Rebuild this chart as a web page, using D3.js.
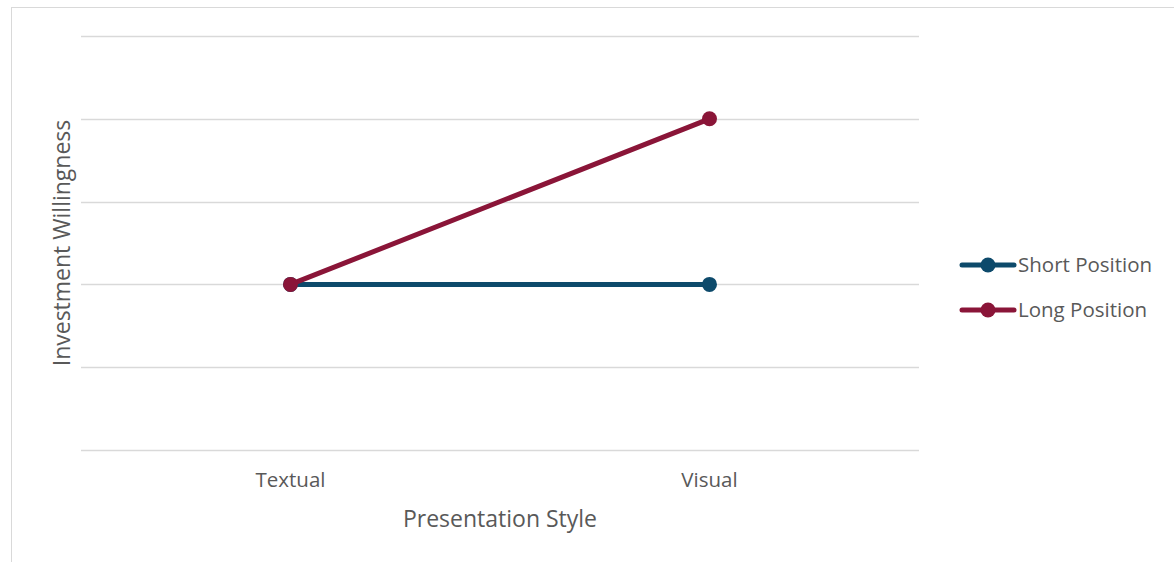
<!DOCTYPE html>
<html>
<head>
<meta charset="utf-8">
<script src="https://cdn.jsdelivr.net/npm/d3@7"></script>
<style>
  html, body { margin: 0; padding: 0; background: #fff; }
  svg { display: block; font-family: "Open Sans", "Noto Sans", sans-serif; }
</style>
</head>
<body>
<svg id="chart" width="1174" height="562"></svg>
<script>
// Categories and series values
const categories = ["Textual", "Visual"];
const seriesNames = ["Short Position", "Long Position"];
const shortValues = [2, 2];
const longValues = [2, 4];
const gridValues = [0, 1, 2, 3, 4, 5];
const seriesColors = ["#0d4a6b", "#8a1538"];

const series = [
  { name: seriesNames[0], values: shortValues, color: seriesColors[0] },
  { name: seriesNames[1], values: longValues, color: seriesColors[1] }
];

const svg = d3.select("#chart");

// Chart frame
svg.append("rect")
  .attr("x", 11.5).attr("y", 7.5)
  .attr("width", 1180).attr("height", 560)
  .attr("fill", "#fff")
  .attr("stroke", "#d9d9d9")
  .attr("stroke-width", 1);

const plot = { left: 81, right: 919, top: 36, bottom: 450 };

const x = d3.scaleBand()
  .domain(categories)
  .range([plot.left, plot.right]);

const y = d3.scaleLinear()
  .domain([0, 5])
  .range([plot.bottom, plot.top]);

// Horizontal gridlines
svg.append("g")
  .selectAll("line")
  .data(gridValues)
  .join("line")
  .attr("x1", plot.left).attr("x2", plot.right)
  .attr("y1", d => Math.round(y(d)) + 0.5)
  .attr("y2", d => Math.round(y(d)) + 0.5)
  .attr("stroke", "#d9d9d9")
  .attr("stroke-width", 1.5);

// Category labels
const xAxis = d3.axisBottom(x).tickSize(0).tickPadding(0);
const xg = svg.append("g")
  .attr("transform", `translate(0,${plot.bottom})`)
  .call(xAxis);
xg.select(".domain").remove();
xg.selectAll("text")
  .attr("dy", 0)
  .attr("y", 37)
  .attr("fill", "#595959")
  .style("font-family", "'Open Sans', sans-serif")
  .style("font-size", "20.5px");

// Axis titles
svg.append("text")
  .attr("x", (plot.left + plot.right) / 2)
  .attr("y", 527)
  .attr("text-anchor", "middle")
  .attr("fill", "#595959")
  .style("font-size", "23px")
  .text("Presentation Style");

svg.append("text")
  .attr("transform", `translate(70,${(plot.top + plot.bottom) / 2}) rotate(-90)`)
  .attr("text-anchor", "middle")
  .attr("fill", "#595959")
  .style("font-size", "23px")
  .text("Investment Willingness");

// Lines and markers
const cx = c => x(c) + x.bandwidth() / 2;
const line = d3.line()
  .x((d, i) => cx(categories[i]))
  .y(d => y(d));

const sg = svg.append("g").selectAll("g")
  .data(series)
  .join("g");

sg.append("path")
  .attr("d", d => line(d.values))
  .attr("fill", "none")
  .attr("stroke", d => d.color)
  .attr("stroke-width", 5)
  .attr("stroke-linecap", "round");

sg.selectAll("circle")
  .data(d => d.values.map(v => ({ v, color: d.color })))
  .join("circle")
  .attr("cx", (d, i) => cx(categories[i]))
  .attr("cy", d => y(d.v))
  .attr("r", 7.5)
  .attr("fill", d => d.color);

// Legend
const legend = svg.append("g")
  .selectAll("g")
  .data(series)
  .join("g")
  .attr("transform", (d, i) => `translate(960,${265 + i * 45})`);

legend.append("line")
  .attr("x1", 2).attr("x2", 54)
  .attr("stroke", d => d.color)
  .attr("stroke-width", 5)
  .attr("stroke-linecap", "round");

legend.append("circle")
  .attr("cx", 28).attr("r", 7.5)
  .attr("fill", d => d.color);

legend.append("text")
  .attr("x", 58)
  .attr("dy", "0.35em")
  .attr("fill", "#595959")
  .style("font-size", "20.5px")
  .text(d => d.name);
</script>
</body>
</html>
